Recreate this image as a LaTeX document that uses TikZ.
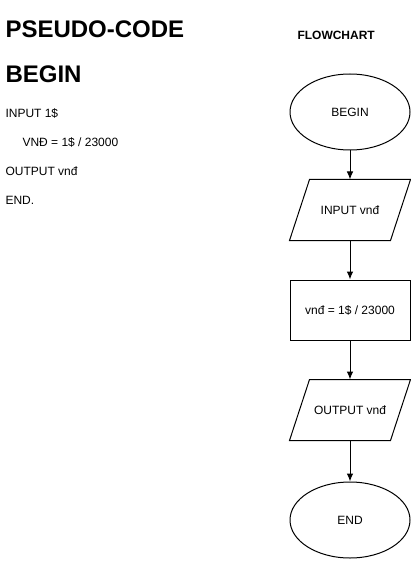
\documentclass[tikz,border=0pt]{standalone}
\usepackage{fontspec}
\setmainfont{Liberation Sans}
\usetikzlibrary{shapes,arrows,arrows.meta,positioning,calc}
\tikzset{
terminal/.style = {draw, fill=white, ellipse, minimum width=120pt, minimum height=76pt, inner sep=0pt},
io/.style = {rectangle, minimum width=120pt, minimum height=60pt, inner sep=0pt},
process/.style = {draw, fill=white, rectangle, minimum width=120pt, minimum height=60pt, inner sep=0pt},
code/.style = {anchor=base west, inner sep=0pt, font=\fontsize{12}{14}\selectfont},
heading/.style = {anchor=base west, inner sep=0pt, font=\fontsize{24}{28}\selectfont\bfseries}
}
% parallelogram round an io node
\newcommand{\slantbox}[1]{
    \draw ($(#1.north west)+(20pt,0pt)$) -- (#1.north east) -- ($(#1.south east)-(20pt,0pt)$) -- (#1.south west) -- cycle;
}
\begin{document}
\begin{tikzpicture}[auto, >={Latex[length=8pt,width=6.5pt]}, line width=1pt, font=\fontsize{12}{14}\selectfont]
    \useasboundingbox (0pt,0pt) rectangle (411pt,-561pt);
    % pseudo-code
    \node [heading] (title) at (5pt,-37.5pt) {PSEUDO-CODE};
    \node [heading] (pbegin) at (5pt,-82.5pt) {BEGIN};
    \node [code] (pin) at (5pt,-117.5pt) {INPUT 1\$};
    \node [code] (pcalc) at (22pt,-146.5pt) {VNĐ = 1\$ / 23000};
    \node [code] (pout) at (5pt,-175.5pt) {OUTPUT vnđ};
    \node [code] (pend) at (5pt,-204.5pt) {END.};
    % flowchart
    \node [code, font=\fontsize{12}{14}\selectfont\bfseries] (ftitle) at (297pt,-39.5pt) {FLOWCHART};
    \node [terminal] (begin) at (350pt,-112pt) {BEGIN};
    \node [io, below of=begin, node distance=98pt] (input) {INPUT vnđ};
    \node [process, below of=input, node distance=100pt] (calc) {vnđ = 1\$ / 23000};
    \node [io, below of=calc, node distance=100pt] (output) {OUTPUT vnđ};
    \node [terminal, below of=output, node distance=110pt] (end) {END};
    \slantbox{input}
    \slantbox{output}
    \draw [->] (begin) -- (input);
    \draw [->] (input) -- (calc);
    \draw [->] (calc) -- (output);
    \draw [->] (output) -- (end);
\end{tikzpicture}
\end{document}
